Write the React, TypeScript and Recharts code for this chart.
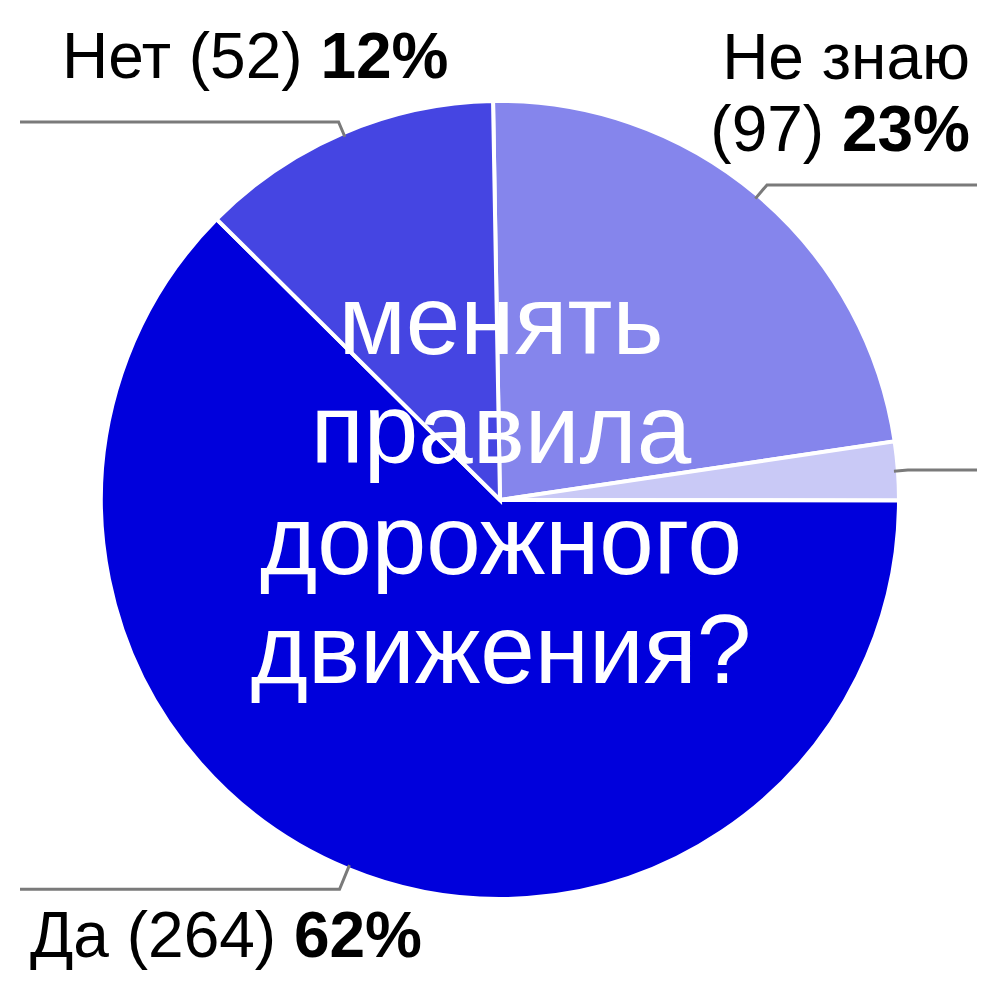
import { PieChart, Pie, Cell, Label } from "recharts";

// slices in drawing order, clockwise from the top
const answers = ["Не знаю", "", "Да", "Нет"];
const counts = [97, 10, 264, 52];
const percents = ["23%", "", "62%", "12%"];
const colors = ["#8585ec", "#c9c9f6", "#0000dc", "#4545e2"];
const question = ["менять", "правила", "дорожного", "движения?"];

const data = answers.map((name, i) => ({ name, value: counts[i] }));

const W = 1000;
const H = 1000;
const CX = 500;
const CY = 500;
const FONT = "'Liberation Sans', Arial, sans-serif";

// leader line / text layout per slice (side: 1 = right, -1 = left)
const layout = [
  { side: 1, ext: 14, textX: 970, rows: [-106, -34], wrap: true },
  { side: 1, ext: 10, textX: 0, rows: [], wrap: false },
  { side: -1, ext: 22, textX: 30, rows: [68], wrap: false },
  { side: -1, ext: 12, textX: 62, rows: [-44], wrap: false },
];

const RAD = Math.PI / 180;

const renderLabel = (props: any) => {
  const { cx, cy, midAngle, outerRadius, index } = props;
  const cfg = layout[index];
  const cos = Math.cos(-midAngle * RAD);
  const sin = Math.sin(-midAngle * RAD);
  const sx = cx + (outerRadius - 4) * cos;
  const sy = cy + (outerRadius - 4) * sin;
  const mx = cx + (outerRadius + cfg.ext) * cos;
  const my = cy + (outerRadius + cfg.ext) * sin;
  const ex = cfg.side > 0 ? W - 23 : 20;
  const anchor = cfg.side > 0 ? "end" : "start";
  const name = answers[index];
  const tail = `(${counts[index]}) `;
  return (
    <g key={`lbl-${index}`}>
      <polyline
        points={`${sx},${sy} ${mx},${my} ${ex},${my}`}
        fill="none"
        stroke="#7a7a7a"
        strokeWidth={3}
      />
      {cfg.rows.length > 0 && (
        cfg.wrap ? (
          <>
            <text x={cfg.textX} y={my + cfg.rows[0]} textAnchor={anchor} fontSize={64} fontFamily={FONT} fill="#000">
              {name}
            </text>
            <text x={cfg.textX} y={my + cfg.rows[1]} textAnchor={anchor} fontSize={64} fontFamily={FONT} fill="#000">
              {tail}
              <tspan fontWeight="bold">{percents[index]}</tspan>
            </text>
          </>
        ) : (
          <text x={cfg.textX} y={my + cfg.rows[0]} textAnchor={anchor} fontSize={64} fontFamily={FONT} fill="#000">
            {`${name} ${tail}`}
            <tspan fontWeight="bold">{percents[index]}</tspan>
          </text>
        )
      )}
    </g>
  );
};

const lineOffsets = [-146, -37, 74, 183];

const CenterText = () => (
  <text textAnchor="middle" fontSize={98} fontFamily={FONT} fill="#fff">
    {question.map((q, i) => (
      <tspan key={q} x={CX + 1} y={CY + lineOffsets[i]}>
        {q}
      </tspan>
    ))}
  </text>
);

export default function App() {
  return (
    <div style={{ position: "absolute", left: 0, top: 0, width: W, height: H, background: "#fff" }}>
      <PieChart width={W} height={H} margin={{ top: 0, right: 0, bottom: 0, left: 0 }}>
        <Pie
          data={data}
          dataKey="value"
          nameKey="name"
          cx={CX}
          cy={CY}
          outerRadius={399}
          startAngle={91}
          endAngle={-269}
          stroke="#fff"
          strokeWidth={4}
          label={renderLabel}
          labelLine={false}
          isAnimationActive={false}
        >
          {data.map((d, i) => (
            <Cell key={i} fill={colors[i]} />
          ))}
          <Label position="center" content={CenterText} />
        </Pie>
      </PieChart>
    </div>
  );
}
